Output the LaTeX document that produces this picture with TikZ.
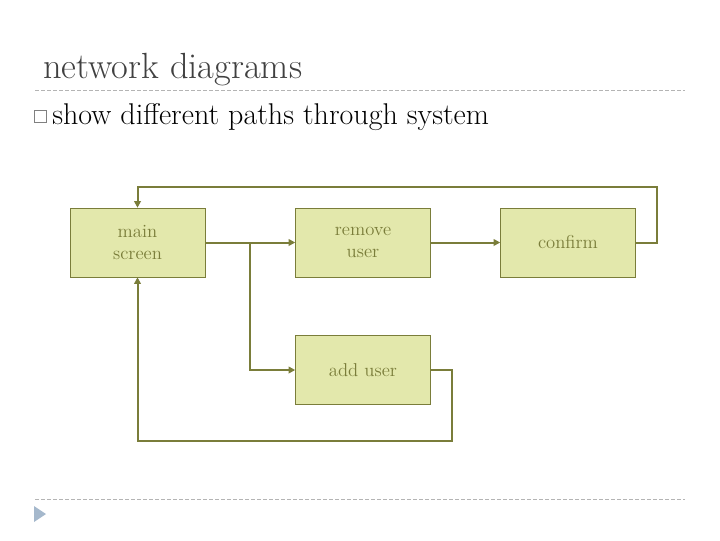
\documentclass[tikz,border=0pt]{standalone}
\usetikzlibrary{arrows.meta,calc}
\definecolor{olive}{HTML}{7A7D3A}
\definecolor{boxfill}{HTML}{E3E8AC}
\definecolor{rulegray}{HTML}{B4B4B4}
\definecolor{titlegray}{HTML}{404040}
\definecolor{navblue}{HTML}{A5B8CC}
\tikzset{
  screenbox/.style = {draw=olive, fill=boxfill, text=olive, align=center,
    minimum width=101.25pt, minimum height=51.75pt, font=\fontsize{14}{16}\selectfont},
  conn/.style = {draw=olive, line width=1.5pt, -{Triangle[length=5pt,width=5pt]}},
  dashrule/.style = {rulegray, dashed, dash pattern=on 3pt off 1.5pt, line width=0.6pt}
}
\begin{document}
\begin{tikzpicture}[x=0.75pt, y=-0.75pt]
\useasboundingbox (0,0) rectangle (720,540);
%%
%% heading and rules
\node [anchor=base west, inner sep=0pt, text=titlegray, font=\fontsize{27.3}{30}\selectfont]
  (title) at (43,78) {network diagrams};
\draw [dashrule] (35,90) -- (685,90);
\draw [dashrule] (35,499) -- (685,499);
\draw [gray, line width=0.6pt] (34,110) rectangle (46,122);
\node [anchor=base west, inner sep=0pt, font=\fontsize{22.5}{25}\selectfont]
  (bullet) at (52,124) {show different paths through system};
%%
%% screens
\node [screenbox] (main)    at (137.5,242.5) {main\\screen};
\node [screenbox] (remove)  at (363,242.5)   {remove\\user};
\node [screenbox] (confirm) at (568,242.5)   {confirm};
\node [screenbox] (add)     at (363,370)     {add user};
%%
%% paths
\coordinate (split)    at (250,242.5);
\coordinate (topright) at (657,187);
\coordinate (botright) at (452,441);
\draw [conn] (main.east) -- (remove.west);
\draw [conn] (split) |- (add.west);
\draw [conn] (remove.east) -- (confirm.west);
\draw [conn] (confirm.east) -| (topright) -| (main.north);
\draw [conn] (add.east) -| (botright) -| (main.south);
%%
%% nav triangle
\fill [navblue] (34,506) -- (46,514) -- (34,522) -- cycle;
%%
\end{tikzpicture}
\end{document}
